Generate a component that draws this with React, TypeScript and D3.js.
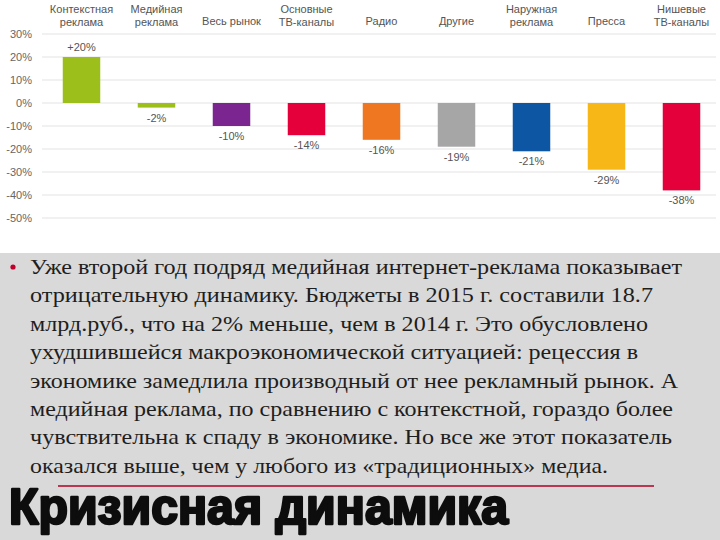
import React from "react";
import * as d3 from "d3";

// media growth 2015 vs 2014, %
const categories = [
  ["Контекстная", "реклама"],
  ["Медийная", "реклама"],
  ["Весь рынок"],
  ["Основные", "ТВ-каналы"],
  ["Радио"],
  ["Другие"],
  ["Наружная", "реклама"],
  ["Пресса"],
  ["Нишевые", "ТВ-каналы"],
];
const values = [20, -2, -10, -14, -16, -19, -21, -29, -38];
const valueLabels = ["+20%", "-2%", "-10%", "-14%", "-16%", "-19%", "-21%", "-29%", "-38%"];
const barColors = ["#9dbf1c", "#9dbf1c", "#7a2590", "#e5003c", "#ef7722", "#a6a6a6", "#0c56a4", "#f7b716", "#e4003a"];
const yTicks = [30, 20, 10, 0, -10, -20, -30, -40, -50];

const bodyLines = [
  "Уже второй год подряд медийная интернет-реклама показывает",
  "отрицательную динамику. Бюджеты в 2015 г. составили 18.7",
  "млрд.руб., что на 2% меньше, чем в 2014 г. Это обусловлено",
  "ухудшившейся макроэкономической ситуацией: рецессия в",
  "экономике замедлила производный от нее рекламный рынок. А",
  "медийная реклама, по сравнению с контекстной, гораздо более",
  "чувствительна к спаду в экономике. Но все же этот показатель",
  "оказался выше, чем у любого из «традиционных» медиа.",
];
const title = "Кризисная динамика";

export default function App() {
  const W = 720;
  const H = 540;

  const x = d3
    .scaleBand<number>()
    .domain(d3.range(values.length))
    .range([44, 719])
    .paddingInner(0.5)
    .paddingOuter(0.25);
  const y = d3.scaleLinear().domain([-50, 30]).range([218, 34]);

  const sans = "'Liberation Sans', Arial, sans-serif";
  // right ends of the body text lines, as set in the slide
  const lineEnds = [682, 653, 648, 638, 678, 673, 672, 608];

  return (
    <svg
      width={W}
      height={H}
      style={{ position: "absolute", left: 0, top: 0, display: "block" }}
    >
      <rect x={0} y={0} width={W} height={H} fill="#fff" />
      <rect x={0} y={253} width={W} height={H - 253} fill="#d9d9d9" />

      {/* grid + y labels */}
      {yTicks.map((t) => (
        <g key={t}>
          <line x1={42} x2={716} y1={y(t)} y2={y(t)} stroke="#e4e4e4" strokeWidth={1.2} />
          <text
            x={32}
            y={y(t)}
            dy="0.35em"
            textAnchor="end"
            fontFamily={sans}
            fontSize={11}
            fill="#666"
          >
            {t + "%"}
          </text>
        </g>
      ))}

      {/* category headers */}
      {categories.map((c, i) => {
        const cx = x(i)! + x.bandwidth() / 2;
        const y0 = c.length === 2 ? 13 : 25;
        return (
          <text key={i} x={cx} y={y0} textAnchor="middle" fontFamily={sans} fontSize={11} fill="#555">
            {c.map((s, j) => (
              <tspan key={j} x={cx} dy={j === 0 ? 0 : 12.5}>
                {s}
              </tspan>
            ))}
          </text>
        );
      })}

      {/* bars */}
      {values.map((v, i) => (
        <rect
          key={i}
          x={x(i)}
          width={x.bandwidth()}
          y={y(Math.max(0, v))}
          height={Math.abs(y(v) - y(0))}
          fill={barColors[i]}
        />
      ))}
      {values.map((v, i) => (
        <text
          key={"l" + i}
          x={x(i)! + x.bandwidth() / 2}
          y={v >= 0 ? y(v) - 6 : y(v) + 14}
          textAnchor="middle"
          fontFamily={sans}
          fontSize={11}
          fill="#555"
        >
          {valueLabels[i]}
        </text>
      ))}

      {/* slide text */}
      <circle cx={13} cy={267} r={2.6} fill="#c0002a" />
      {bodyLines.map((s, i) => (
        <text
          key={i}
          x={30}
          y={274 + i * 28.4}
          fontFamily="'Liberation Serif', 'Times New Roman', serif"
          fontSize={21}
          fill="#1e1e1e"
          textLength={lineEnds[i] - 30}
          lengthAdjust="spacingAndGlyphs"
        >
          {s}
        </text>
      ))}
      <line x1={58} x2={654} y1={486} y2={486} stroke="#b00020" strokeWidth={1.6} />
      <text
        x={9}
        y={524}
        fontFamily="'Liberation Sans Narrow', 'Liberation Sans', sans-serif"
        fontWeight="bold"
        fontSize={50}
        fill="#0d0d0d"
        stroke="#0d0d0d"
        strokeWidth={2.6}
        strokeLinejoin="round"
        textLength={499}
        lengthAdjust="spacingAndGlyphs"
      >
        {title}
      </text>
    </svg>
  );
}
